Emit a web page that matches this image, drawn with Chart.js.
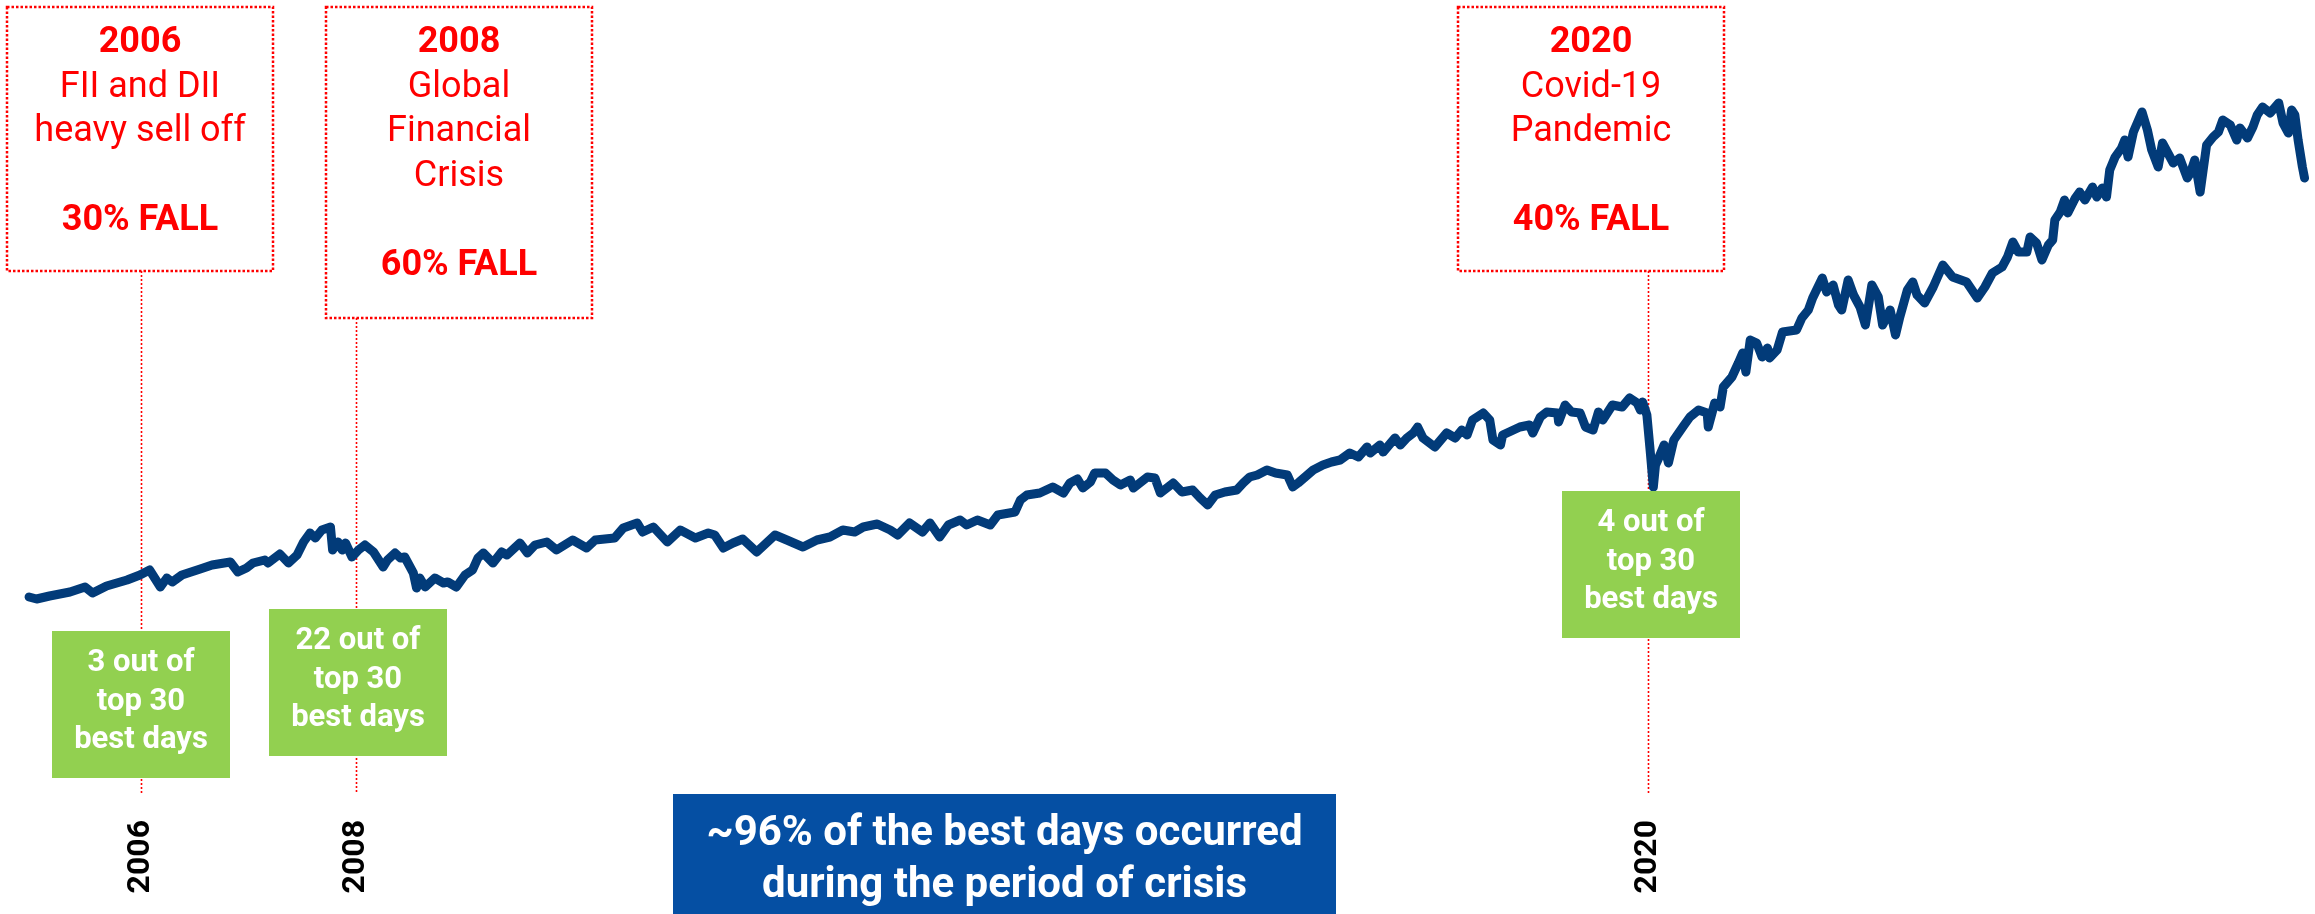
<!DOCTYPE html>
<html>
<head>
<meta charset="utf-8">
<script src="https://cdn.jsdelivr.net/npm/chart.js@4.4.1/dist/chart.umd.min.js"></script>
<style>
  html, body { margin: 0; padding: 0; background: #fff; }
  #wrap { width: 2315px; height: 914px; position: relative; }
</style>
</head>
<body>
<div id="wrap"><canvas id="market-chart"></canvas></div>
<script>
// --- Data (decimal year, index level) ---
const years = [
  2004.96, 2005.03, 2005.15, 2005.34, 2005.48, 2005.55, 2005.68, 2005.87, 2005.99, 2006.08,
  2006.18, 2006.24, 2006.29, 2006.38, 2006.55, 2006.66, 2006.83, 2006.90, 2006.98, 2007.04,
  2007.15, 2007.18, 2007.29, 2007.37, 2007.45, 2007.51, 2007.57, 2007.62, 2007.68, 2007.76,
  2007.78, 2007.83, 2007.87, 2007.90, 2007.96, 2008.02, 2008.08, 2008.16, 2008.25, 2008.29,
  2008.36, 2008.41, 2008.45, 2008.53, 2008.56, 2008.59, 2008.64, 2008.73, 2008.81, 2008.85,
  2008.93, 2009.01, 2009.08, 2009.13, 2009.18, 2009.27, 2009.35, 2009.40, 2009.52, 2009.59,
  2009.66, 2009.77, 2009.86, 2010.01, 2010.14, 2010.22, 2010.40, 2010.48, 2010.61, 2010.66,
  2010.76, 2010.89, 2011.01, 2011.15, 2011.27, 2011.33, 2011.41, 2011.50, 2011.59, 2011.72,
  2011.89, 2012.00, 2012.15, 2012.28, 2012.40, 2012.52, 2012.63, 2012.71, 2012.84, 2012.96,
  2013.03, 2013.14, 2013.26, 2013.33, 2013.42, 2013.50, 2013.61, 2013.67, 2013.77, 2013.89,
  2013.96, 2014.12, 2014.17, 2014.23, 2014.35, 2014.47, 2014.57, 2014.63, 2014.70, 2014.75,
  2014.82, 2014.86, 2014.96, 2015.03, 2015.10, 2015.19, 2015.22, 2015.35, 2015.42, 2015.47,
  2015.59, 2015.67, 2015.77, 2015.84, 2015.91, 2015.98, 2016.07, 2016.18, 2016.24, 2016.30,
  2016.37, 2016.46, 2016.54, 2016.65, 2016.70, 2016.75, 2016.89, 2016.98, 2017.06, 2017.14,
  2017.23, 2017.31, 2017.39, 2017.42, 2017.51, 2017.54, 2017.65, 2017.70, 2017.76, 2017.82,
  2017.86, 2017.91, 2018.02, 2018.13, 2018.21, 2018.27, 2018.32, 2018.37, 2018.47, 2018.53,
  2018.56, 2018.63, 2018.65, 2018.75, 2018.81, 2018.90, 2018.93, 2019.00, 2019.06, 2019.16,
  2019.17, 2019.23, 2019.29, 2019.37, 2019.42, 2019.49, 2019.54, 2019.58, 2019.67, 2019.76,
  2019.83, 2019.90, 2019.93, 2019.95, 2019.99, 2020.02, 2020.05, 2020.07, 2020.10, 2020.15,
  2020.19, 2020.24, 2020.33, 2020.39, 2020.47, 2020.55, 2020.56, 2020.62, 2020.67, 2020.70,
  2020.78, 2020.84, 2020.88, 2020.91, 2020.95, 2021.01, 2021.06, 2021.11, 2021.13, 2021.20,
  2021.25, 2021.38, 2021.43, 2021.49, 2021.53, 2021.62, 2021.66, 2021.72, 2021.77, 2021.80,
  2021.86, 2021.91, 2021.97, 2022.02, 2022.08, 2022.14, 2022.18, 2022.25, 2022.30, 2022.34,
  2022.41, 2022.46, 2022.50, 2022.57, 2022.65, 2022.74, 2022.83, 2022.96, 2023.06, 2023.13,
  2023.20, 2023.29, 2023.34, 2023.39, 2023.44, 2023.52, 2023.55, 2023.61, 2023.66, 2023.72,
  2023.76, 2023.78, 2023.83, 2023.87, 2023.90, 2023.97, 2024.01, 2024.06, 2024.13, 2024.17,
  2024.22, 2024.26, 2024.29, 2024.34, 2024.40, 2024.43, 2024.46, 2024.51, 2024.59, 2024.64,
  2024.68, 2024.74, 2024.78, 2024.85, 2024.88, 2024.94, 2025.01, 2025.04, 2025.08, 2025.13,
  2025.19, 2025.25, 2025.30, 2025.34, 2025.41, 2025.47, 2025.50, 2025.57, 2025.62, 2025.66,
  2025.71, 2025.78, 2025.86, 2025.90, 2025.95, 2025.98, 2026.01, 2026.04, 2026.08, 2026.10
];

const indexValues = [
  9850, 9750, 9900, 10100, 10350, 10050, 10400, 10700, 10950, 11200,
  10350, 10800, 10600, 10950, 11250, 11450, 11600, 11100, 11300, 11550,
  11700, 11550, 12000, 11550, 11950, 12600, 13050, 12800, 13200, 13350,
  12200, 12600, 12200, 12550, 11850, 12200, 12450, 12100, 11350, 11700,
  12050, 11800, 11850, 11050, 10300, 10800, 10350, 10800, 10550, 10600,
  10350, 10950, 11200, 11800, 12050, 11550, 12100, 11950, 12550, 12050,
  12450, 12600, 12200, 12700, 12300, 12700, 12800, 13300, 13550, 13100,
  13350, 12600, 13200, 12800, 13050, 12950, 12300, 12550, 12750, 12100,
  12950, 12700, 12350, 12700, 12850, 13200, 13100, 13350, 13500, 13200,
  12950, 13550, 13100, 13550, 12850, 13450, 13700, 13450, 13700, 13450,
  13950, 14100, 14700, 14950, 15050, 15350, 15050, 15550, 15750, 15300,
  15600, 16050, 16050, 15700, 15450, 15700, 15300, 15850, 15800, 15050,
  15550, 15100, 15200, 14800, 14450, 14950, 15100, 15200, 15550, 15850,
  15950, 16200, 16050, 15950, 15350, 15550, 16200, 16450, 16600, 16700,
  17050, 16850, 17350, 17050, 17450, 17100, 17800, 17450, 17800, 18050,
  18350, 17800, 17350, 18050, 17800, 18200, 17950, 18700, 19050, 18700,
  17700, 17450, 17950, 18200, 18350, 18450, 18050, 18850, 19100, 19050,
  18600, 19450, 19100, 19050, 18350, 18200, 19100, 18700, 19450, 19350,
  19800, 19550, 19200, 19600, 18950, 17200, 15350, 16450, 16800, 17450,
  16550, 17700, 18400, 18850, 19200, 19050, 18350, 19550, 19350, 20350,
  20850, 21550, 22050, 21100, 22700, 22550, 21850, 22300, 21800, 22200,
  23100, 23200, 23800, 24200, 24800, 25800, 25100, 25450, 24450, 24200,
  25700, 24950, 24350, 23450, 25450, 24850, 23450, 24200, 22950, 23850,
  25200, 25600, 24950, 24550, 25350, 26450, 25850, 25600, 24800, 25350,
  26050, 26350, 26850, 27600, 27100, 27100, 27850, 27550, 26700, 27450,
  27700, 28700, 29100, 29700, 29050, 29800, 30100, 29700, 30350, 29850,
  30300, 29850, 31200, 31850, 32300, 32700, 31850, 33100, 34100, 33200,
  32200, 31350, 32550, 31850, 31550, 31800, 30800, 31050, 31700, 30100,
  32450, 32850, 33100, 33700, 33450, 32700, 33300, 32800, 33350, 33950,
  34350, 34050, 34550, 33550, 33050, 34200, 33950, 32700, 31350, 30800
];

const tickYears = [2006, 2008, 2020];

const crisisYears = [2006, 2008, 2020];
const crisisTitles = ['2006', '2008', '2020'];
const crisisCauses = [
  ['FII and DII', 'heavy sell off'],
  ['Global', 'Financial', 'Crisis'],
  ['Covid-19', 'Pandemic']
];
const crisisFalls = ['30% FALL', '60% FALL', '40% FALL'];
const bestDayCounts = [3, 22, 4];
const bestDayTotal = 30;
const summaryLines = ['~96% of the best days occurred', 'during the period of crisis'];

// --- Look ---
const LINE_BLUE = '#023B79';
const RED = '#FF0000';
const GREEN = '#92D050';
const BOX_BLUE = '#054FA3';

// callout placement (pixels)
const redBoxes = [
  { x: 7, y: 7, w: 266, h: 264 },
  { x: 326, y: 7, w: 266, h: 311 },
  { x: 1458, y: 7, w: 266, h: 264 }
];
const greenBoxes = [
  { x: 52, y: 631 },
  { x: 269, y: 609 },
  { x: 1562, y: 491 }
];
const GREEN_W = 178, GREEN_H = 147;
const summaryBox = { x: 673, y: 794, w: 663, h: 120 };

const callouts = {
  id: 'callouts',
  beforeDatasetsDraw(chart) {
    const ctx = chart.ctx;
    const xs = chart.scales.x;
    const bottom = chart.chartArea.bottom;
    ctx.save();
    ctx.strokeStyle = RED;
    ctx.lineWidth = 1.6;
    ctx.setLineDash([2, 2]);
    crisisYears.forEach((yr, i) => {
      const px = Math.round(xs.getPixelForValue(yr)) + 0.5;
      const b = redBoxes[i];
      ctx.beginPath();
      ctx.moveTo(px, b.y + b.h);
      ctx.lineTo(px, bottom);
      ctx.stroke();
    });
    ctx.restore();
  },
  afterDatasetsDraw(chart) {
    const ctx = chart.ctx;
    ctx.save();

    // red dotted callouts
    redBoxes.forEach((b, i) => {
      ctx.fillStyle = '#fff';
      ctx.fillRect(b.x, b.y, b.w, b.h);
      ctx.strokeStyle = RED;
      ctx.lineWidth = 2.5;
      ctx.setLineDash([2.5, 2]);
      ctx.strokeRect(b.x, b.y, b.w, b.h);
      ctx.setLineDash([]);

      const cx = b.x + b.w / 2;
      ctx.fillStyle = RED;
      ctx.textAlign = 'center';
      ctx.textBaseline = 'alphabetic';
      let y = b.y + 45;
      ctx.font = 'bold 36px Roboto';
      ctx.fillText(crisisTitles[i], cx, y);
      ctx.font = '36px Roboto';
      crisisCauses[i].forEach(line => {
        y += 44.5;
        ctx.fillText(line, cx, y);
      });
      y += 89;
      ctx.font = 'bold 36px Roboto';
      ctx.fillText(crisisFalls[i], cx, y);
    });

    // green best-days boxes
    greenBoxes.forEach((g, i) => {
      ctx.fillStyle = GREEN;
      ctx.fillRect(g.x, g.y, GREEN_W, GREEN_H);
      ctx.fillStyle = '#fff';
      ctx.font = 'bold 31px Roboto';
      ctx.textAlign = 'center';
      const cx = g.x + GREEN_W / 2;
      const lines = [`${bestDayCounts[i]} out of`, `top ${bestDayTotal}`, 'best days'];
      lines.forEach((line, k) => ctx.fillText(line, cx, g.y + 40 + k * 38.5));
    });

    // blue summary box
    ctx.fillStyle = BOX_BLUE;
    ctx.fillRect(summaryBox.x, summaryBox.y, summaryBox.w, summaryBox.h);
    ctx.fillStyle = '#fff';
    ctx.font = 'bold 42px Roboto';
    ctx.textAlign = 'center';
    const sx = summaryBox.x + summaryBox.w / 2;
    summaryLines.forEach((line, k) => ctx.fillText(line, sx, summaryBox.y + 51 + k * 52));

    ctx.restore();
  }
};

const chartCtx = document.getElementById('market-chart').getContext('2d');

const marketChart = new Chart(chartCtx, {
  type: 'line',
  data: {
    datasets: [{
      label: 'Index',
      data: years.map((x, i) => ({ x: x, y: indexValues[i] })),
      borderColor: LINE_BLUE,
      borderWidth: 9,
      borderJoinStyle: 'round',
      borderCapStyle: 'round',
      pointRadius: 0,
      tension: 0,
      fill: false
    }]
  },
  options: {
    responsive: true,
    maintainAspectRatio: false,
    animation: false,
    devicePixelRatio: 1,
    layout: { padding: 0 },
    plugins: {
      legend: { display: false },
      tooltip: { enabled: false }
    },
    scales: {
      x: {
        type: 'linear',
        min: 2004.69,
        max: 2026.197,
        grid: { display: false, drawTicks: false },
        border: { display: false },
        afterBuildTicks: axis => { axis.ticks = tickYears.map(v => ({ value: v })); },
        afterFit: axis => { axis.height = 120; },
        ticks: {
          autoSkip: false,
          minRotation: 90,
          maxRotation: 90,
          padding: 26,
          color: '#000',
          font: { family: 'Roboto', size: 32, weight: 'bold' },
          callback: v => String(v)
        }
      },
      y: {
        display: false,
        min: 0,
        max: 39700
      }
    }
  },
  plugins: [callouts]
});
</script>
</body>
</html>
